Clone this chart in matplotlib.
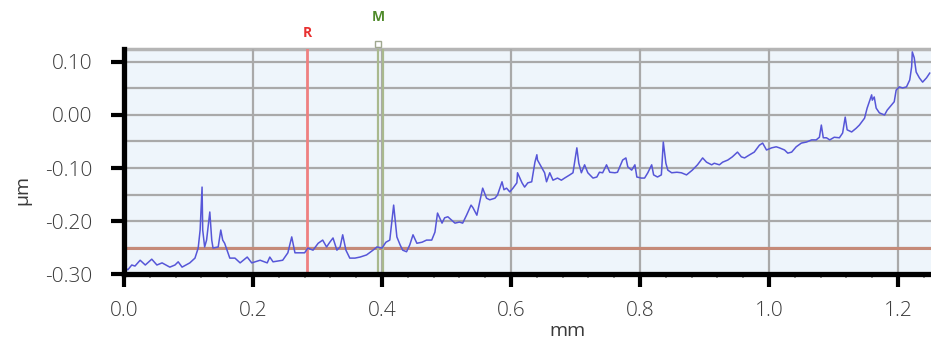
import numpy as np
import matplotlib.pyplot as plt
from matplotlib.ticker import MultipleLocator

# surface profile, x in mm, height in um
pos_mm = [0.000, 0.006, 0.012, 0.017, 0.025, 0.033, 0.043, 0.051, 0.059, 0.071,
          0.079, 0.084, 0.090, 0.102, 0.110, 0.115, 0.118, 0.121, 0.122, 0.125,
          0.128, 0.133, 0.136, 0.138, 0.146, 0.150, 0.153, 0.156, 0.164, 0.172,
          0.180, 0.191, 0.198, 0.211, 0.222, 0.226, 0.231, 0.246, 0.254, 0.260,
          0.265, 0.273, 0.280, 0.285, 0.293, 0.301, 0.308, 0.314, 0.319, 0.324,
          0.330, 0.335, 0.339, 0.344, 0.350, 0.358, 0.366, 0.376, 0.386, 0.392,
          0.400, 0.406, 0.412, 0.418, 0.423, 0.428, 0.432, 0.438, 0.443, 0.448,
          0.454, 0.462, 0.469, 0.477, 0.482, 0.486, 0.493, 0.497, 0.502, 0.513,
          0.520, 0.525, 0.531, 0.538, 0.541, 0.547, 0.551, 0.556, 0.562, 0.567,
          0.575, 0.579, 0.586, 0.589, 0.593, 0.598, 0.603, 0.609, 0.610, 0.617,
          0.621, 0.626, 0.632, 0.637, 0.640, 0.641, 0.647, 0.652, 0.655, 0.660,
          0.665, 0.672, 0.678, 0.683, 0.691, 0.696, 0.702, 0.705, 0.709, 0.714,
          0.719, 0.727, 0.733, 0.737, 0.742, 0.748, 0.753, 0.761, 0.765, 0.773,
          0.778, 0.781, 0.787, 0.792, 0.795, 0.802, 0.807, 0.812, 0.818, 0.821,
          0.827, 0.833, 0.836, 0.840, 0.843, 0.849, 0.857, 0.864, 0.872, 0.877,
          0.881, 0.889, 0.897, 0.903, 0.911, 0.915, 0.923, 0.928, 0.936, 0.943,
          0.951, 0.957, 0.962, 0.970, 0.977, 0.985, 0.990, 0.996, 1.004, 1.011,
          1.016, 1.024, 1.029, 1.035, 1.042, 1.050, 1.058, 1.066, 1.073, 1.078,
          1.081, 1.084, 1.089, 1.094, 1.101, 1.109, 1.114, 1.118, 1.121, 1.128,
          1.135, 1.140, 1.148, 1.152, 1.159, 1.160, 1.163, 1.166, 1.171, 1.179,
          1.183, 1.190, 1.194, 1.197, 1.202, 1.207, 1.213, 1.218, 1.221, 1.222,
          1.225, 1.228, 1.233, 1.238, 1.244, 1.249]
height_um = [-0.287, -0.292, -0.283, -0.285, -0.274, -0.283, -0.272, -0.283, -0.279, -0.287,
             -0.283, -0.277, -0.287, -0.279, -0.270, -0.251, -0.217, -0.136, -0.217, -0.249,
             -0.236, -0.183, -0.236, -0.251, -0.249, -0.217, -0.236, -0.242, -0.270, -0.270,
             -0.279, -0.268, -0.279, -0.274, -0.279, -0.268, -0.277, -0.274, -0.260, -0.230,
             -0.260, -0.260, -0.260, -0.251, -0.255, -0.242, -0.236, -0.249, -0.240, -0.232,
             -0.255, -0.249, -0.226, -0.255, -0.270, -0.270, -0.268, -0.264, -0.255, -0.249,
             -0.251, -0.240, -0.236, -0.170, -0.230, -0.245, -0.255, -0.258, -0.245, -0.226,
             -0.242, -0.240, -0.236, -0.236, -0.221, -0.185, -0.204, -0.194, -0.192, -0.204,
             -0.202, -0.204, -0.189, -0.170, -0.175, -0.189, -0.166, -0.138, -0.157, -0.160,
             -0.157, -0.151, -0.126, -0.141, -0.138, -0.145, -0.138, -0.128, -0.109, -0.128,
             -0.136, -0.128, -0.126, -0.089, -0.075, -0.085, -0.098, -0.109, -0.126, -0.109,
             -0.123, -0.119, -0.123, -0.119, -0.113, -0.109, -0.062, -0.091, -0.109, -0.094,
             -0.109, -0.119, -0.117, -0.108, -0.109, -0.094, -0.108, -0.109, -0.108, -0.085,
             -0.081, -0.098, -0.104, -0.094, -0.117, -0.119, -0.119, -0.109, -0.094, -0.113,
             -0.117, -0.113, -0.051, -0.091, -0.104, -0.109, -0.108, -0.109, -0.113, -0.108,
             -0.104, -0.094, -0.081, -0.089, -0.094, -0.091, -0.094, -0.089, -0.085, -0.079,
             -0.070, -0.079, -0.081, -0.075, -0.070, -0.057, -0.053, -0.066, -0.062, -0.060,
             -0.062, -0.066, -0.072, -0.070, -0.060, -0.053, -0.051, -0.047, -0.047, -0.042,
             -0.019, -0.043, -0.043, -0.047, -0.042, -0.043, -0.034, -0.004, -0.028, -0.032,
             -0.025, -0.019, -0.006, 0.013, 0.038, 0.028, 0.034, 0.013, 0.004, 0.000,
             0.009, 0.019, 0.025, 0.047, 0.053, 0.051, 0.053, 0.066, 0.091, 0.119,
             0.108, 0.081, 0.070, 0.062, 0.070, 0.079]

ref_level = -0.25      # brown reference line
r_cursor = 0.284       # R cursor position
m_cursor = [0.394, 0.401]  # M cursor band
y_ticks = [-0.30, -0.20, -0.10, 0.00, 0.10]
x_ticks = [0.0, 0.2, 0.4, 0.6, 0.8, 1.0, 1.2]

plt.rcParams['font.family'] = ['Open Sans', 'DejaVu Sans']
plt.rcParams['font.weight'] = 'light'

fig = plt.figure(figsize=(9.31, 3.48), dpi=100)
ax = fig.add_axes([0.1332, 0.2126, 0.8668, 0.6466])
ax.set_facecolor('#eef5fb')

ax.set_xlim(0, 1.251)
ax.set_ylim(-0.30, 0.1245)

# grid: every 0.05 um horizontally, every 0.2 mm vertically
for yv in np.arange(-0.25, 0.101, 0.05):
    ax.axhline(yv, color='#a9a9a9', lw=1.6, zorder=1)
ax.axhline(0.1245, color='#b5b5b5', lw=2.5, zorder=1, clip_on=False)
for xv in x_ticks[1:]:
    ax.axvline(xv, color='#a9a9a9', lw=1.6, zorder=1)

ax.axhline(ref_level, color='#c58a78', lw=2.2, zorder=2)

ax.axvline(r_cursor, color='#ef8080', lw=2.0, zorder=3)
for xm in m_cursor:
    ax.axvline(xm, color='#a9b98e', lw=1.6, zorder=3)

ax.plot(pos_mm, height_um, color='#5656d8', lw=1.1, zorder=4)

# cursor markers above the plot
ax.plot([m_cursor[0]], [0.133], marker='s', ms=5, mfc='white', mec='#a0a890',
        mew=1.0, clip_on=False, zorder=5)
ax.text(r_cursor, 0.155, 'R', color='#e83030', fontsize=10, fontweight='bold',
        ha='center', va='center')
ax.text(m_cursor[0], 0.185, 'M', color='#4f8a2a', fontsize=10, fontweight='bold',
        ha='center', va='center')

for side in ['top', 'right']:
    ax.spines[side].set_visible(False)
ax.spines['left'].set_linewidth(3.8)
ax.spines['bottom'].set_linewidth(3.8)
ax.spines['left'].set_zorder(6)
ax.spines['bottom'].set_zorder(6)

ax.set_yticks(y_ticks)
ax.set_yticklabels(['%.2f' % v for v in y_ticks])
ax.set_xticks(x_ticks)
ax.set_xticklabels(['%.1f' % v for v in x_ticks])
ax.xaxis.set_minor_locator(MultipleLocator(0.04))
ax.tick_params(axis='both', which='major', length=9.5, width=3, color='black',
               labelsize=15, labelcolor='#3a3a3a')
ax.tick_params(axis='y', which='major', pad=13)
ax.tick_params(axis='x', which='major', pad=10)
ax.tick_params(axis='x', which='minor', length=3, width=1.2, color='#888888')

ax.set_xlabel('mm', fontsize=14, color='#3a3a3a')
ax.xaxis.set_label_coords(0.549, -0.215)
ax.set_ylabel('µm', fontsize=14, color='#3a3a3a')
ax.yaxis.set_label_coords(-0.115, 0.373)

fig.savefig('out.png', dpi=100)
